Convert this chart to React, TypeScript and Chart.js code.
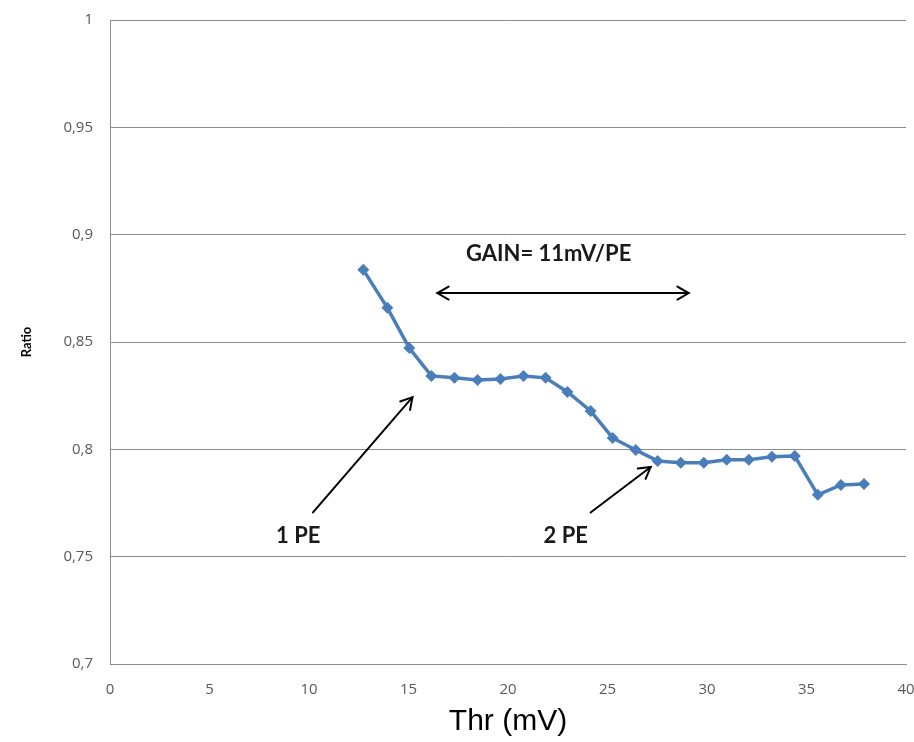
import React, { useEffect, useRef } from "react";
import { Chart, registerables } from "chart.js";

Chart.register(...registerables);

// Threshold (mV)
const thresholds: number[] = [
  12.73, 13.94, 15.04, 16.15, 17.31, 18.47, 19.62, 20.78, 21.89, 22.99, 24.15, 25.26,
  26.42, 27.52, 28.68, 29.84, 30.99, 32.1, 33.26, 34.41, 35.57, 36.73, 37.89,
];
// Ratio
const ratios: number[] = [
  0.8836, 0.8659, 0.8472, 0.8342, 0.8333, 0.8323, 0.8328, 0.8342, 0.8333, 0.8267, 0.8179,
  0.8053, 0.7997, 0.7946, 0.7937, 0.7937, 0.7951, 0.7951, 0.7965, 0.7969, 0.7788, 0.7834,
  0.7839,
];

const xTickValues: number[] = [0, 5, 10, 15, 20, 25, 30, 35, 40];
const yTickLabels: string[] = ["0,7", "0,75", "0,8", "0,85", "0,9", "0,95", "1"];

const gainLabel = "GAIN= 11mV/PE";
const gainLabelAt = { x: 22.04, y: 0.891 };
const gainArrow = { x1: 16.45, x2: 29.08, y: 0.8728 };
const peLabels = [
  { text: "1 PE", x: 9.46, y: 0.7597, fromX: 10.2, fromY: 0.7706, toX: 15.2, toY: 0.8243 },
  { text: "2 PE", x: 22.9, y: 0.7597, fromX: 24.15, fromY: 0.7706, toX: 27.17, toY: 0.7918 },
];

function drawHead(ctx: CanvasRenderingContext2D, x: number, y: number, angle: number, size: number) {
  ctx.beginPath();
  ctx.moveTo(x - size * Math.cos(angle - Math.PI / 6), y - size * Math.sin(angle - Math.PI / 6));
  ctx.lineTo(x, y);
  ctx.lineTo(x - size * Math.cos(angle + Math.PI / 6), y - size * Math.sin(angle + Math.PI / 6));
  ctx.stroke();
}

const annotationPlugin = {
  id: "annotations",
  afterDatasetsDraw(chart: any) {
    const ctx: CanvasRenderingContext2D = chart.ctx;
    const xs = chart.scales.x;
    const ys = chart.scales.y;
    ctx.save();
    ctx.strokeStyle = "#000000";
    ctx.fillStyle = "#1a1a1a";
    ctx.lineWidth = 2;
    ctx.lineCap = "round";
    ctx.lineJoin = "miter";
    ctx.font = "bold 22px Lato";
    ctx.textAlign = "center";
    ctx.textBaseline = "middle";
    ctx.fillText(gainLabel, xs.getPixelForValue(gainLabelAt.x), ys.getPixelForValue(gainLabelAt.y));
    const ax1 = xs.getPixelForValue(gainArrow.x1);
    const ax2 = xs.getPixelForValue(gainArrow.x2);
    const ay = ys.getPixelForValue(gainArrow.y);
    ctx.beginPath();
    ctx.moveTo(ax1, ay);
    ctx.lineTo(ax2, ay);
    ctx.stroke();
    drawHead(ctx, ax2, ay, 0, 13);
    drawHead(ctx, ax1, ay, Math.PI, 13);
    for (const p of peLabels) {
      ctx.fillText(p.text, xs.getPixelForValue(p.x), ys.getPixelForValue(p.y));
      const fx = xs.getPixelForValue(p.fromX);
      const fy = ys.getPixelForValue(p.fromY);
      const tx = xs.getPixelForValue(p.toX);
      const ty = ys.getPixelForValue(p.toY);
      ctx.beginPath();
      ctx.moveTo(fx, fy);
      ctx.lineTo(tx, ty);
      ctx.stroke();
      drawHead(ctx, tx, ty, Math.atan2(ty - fy, tx - fx), 13);
    }
    ctx.restore();
  },
};

export default function App() {
  const ref = useRef<HTMLCanvasElement | null>(null);
  useEffect(() => {
    if (!ref.current) return;
    const points = thresholds.map((x, i) => ({ x, y: ratios[i] }));
    const chart = new Chart(ref.current, {
      type: "line",
      data: {
        datasets: [
          {
            data: points,
            borderColor: "#4A7EBB",
            backgroundColor: "#4A7EBB",
            borderWidth: 3.5,
            pointStyle: "rectRot",
            pointRadius: 6,
            pointBorderWidth: 0,
            tension: 0,
          },
        ],
      },
      options: {
        responsive: false,
        animation: false,
        layout: { padding: { top: 20, right: 8, left: 0, bottom: 0 } },
        plugins: { legend: { display: false }, tooltip: { enabled: false } },
        scales: {
          x: {
            type: "linear",
            min: 0,
            max: 40,
            afterBuildTicks: (s: any) => {
              s.ticks = xTickValues.map((v) => ({ value: v }));
            },
            afterFit: (s: any) => {
              s.height = 78;
              s.paddingLeft = 0;
              s.paddingRight = 0;
            },
            grid: { display: false, drawTicks: false },
            border: { display: true, color: "#8c8c8c", width: 1 },
            ticks: {
              padding: 17,
              color: "#595959",
              font: { family: "Open Sans", size: 15 },
              maxRotation: 0,
              callback: (v: any) => String(v),
            },
            title: {
              display: true,
              text: "Thr (mV)",
              color: "#000000",
              font: { family: "Liberation Sans", size: 30 },
              padding: { top: 0, bottom: 2 },
            },
          },
          y: {
            type: "linear",
            min: 0.7,
            max: 1,
            afterBuildTicks: (s: any) => {
              s.ticks = yTickLabels.map((_, i) => ({ value: 0.7 + i * 0.05 }));
            },
            afterFit: (s: any) => {
              s.width = 110;
              s.paddingTop = 0;
              s.paddingBottom = 0;
            },
            grid: { color: "#8c8c8c", lineWidth: 1, drawTicks: false },
            border: { display: true, color: "#8c8c8c", width: 1 },
            ticks: {
              padding: 17,
              color: "#595959",
              font: { family: "Open Sans", size: 15 },
              callback: (_v: any, i: number) => yTickLabels[i],
            },
            title: {
              display: true,
              text: "Ratio",
              color: "#000000",
              font: { family: "Lato", size: 13, weight: "bold" },
              padding: { top: 19, bottom: 0 },
            },
          },
        },
      },
      plugins: [annotationPlugin],
    } as any);
    return () => chart.destroy();
  }, []);
  return (
    <div style={{ position: "absolute", left: 0, top: 0, width: 914, height: 742, background: "#fff" }}>
      <canvas ref={ref} width={914} height={742} />
    </div>
  );
}
